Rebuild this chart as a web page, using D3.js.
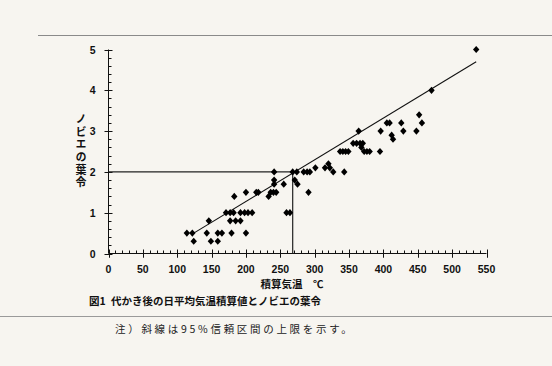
<!DOCTYPE html>
<html><head><meta charset="utf-8">
<script src="https://cdn.jsdelivr.net/npm/d3@7"></script>
<style>
html,body{margin:0;padding:0;background:#f7f5f0;}
svg{display:block;}
</style></head>
<body>
<svg id="c" width="552" height="366"></svg>
<script>
// Data: accumulated daily mean temperature (°C) after puddling vs. leaf age of barnyard grass
const tempSum = [124,149,159, 114,122,143,159,165,179,200, 146,177,185,192,
  171,177,182,192,198,203,209,259,264, 183,233, 200,215,218,236,240,244,291,
  241,255,275, 241,271, 241,268,274,284,289,293,327,343, 301,315,322, 320,
  337,341,345,349,372,376,380,395, 368, 356,361,366,370, 414, 412,
  364,396,429,448, 405,409,426,456, 452, 470, 535];
const leafAge = [0.3,0.3,0.3, 0.5,0.5,0.5,0.5,0.5,0.5,0.5, 0.8,0.8,0.8,0.8,
  1.0,1.0,1.0,1.0,1.0,1.0,1.0,1.0,1.0, 1.4,1.4, 1.5,1.5,1.5,1.5,1.5,1.5,1.5,
  1.7,1.7,1.7, 1.8,1.8, 2.0,2.0,2.0,2.0,2.0,2.0,2.0,2.0, 2.1,2.1,2.1, 2.2,
  2.5,2.5,2.5,2.5,2.5,2.5,2.5,2.5, 2.6, 2.7,2.7,2.7,2.7, 2.8, 2.9,
  3.0,3.0,3.0,3.0, 3.2,3.2,3.2,3.2, 3.4, 4.0, 5.0];
// upper limit of 95% confidence interval (straight line)
const limitX = [124, 535];
const limitY = [0.5, 4.7];
// reference lines at leaf age 2
const refX = [0, 268];
const refY = [2, 2];
const xTicks = [0,50,100,150,200,250,300,350,400,450,500,550];
const yTicks = [0,1,2,3,4,5];

const svg = d3.select("#c");
// frame lines
svg.append("line").attr("x1",38).attr("x2",552).attr("y1",35.5).attr("y2",35.5).attr("stroke","#8a8a8a").attr("stroke-width",1);
svg.append("line").attr("x1",0).attr("x2",552).attr("y1",316.5).attr("y2",316.5).attr("stroke","#9a9a9a").attr("stroke-width",1);

const x = d3.scaleLinear().domain([0,550]).range([108.5,486.5]);
const y = d3.scaleLinear().domain([0,5]).range([253.5,49.5]);

const font = "'Liberation Sans', Arial, sans-serif";
// x axis
const gx = svg.append("g").attr("transform",`translate(0,${y(0)})`);
gx.append("line").attr("x1",x(0)).attr("x2",x(550)).attr("stroke","#111");
gx.selectAll(".mn").data(d3.range(0,551,10)).join("line")
  .attr("x1",d=>Math.round(x(d))+0.5).attr("x2",d=>Math.round(x(d))+0.5)
  .attr("y1",0).attr("y2",d=>d%50===0?4:-3).attr("stroke","#111");
gx.selectAll(".mj").data(xTicks).join("line")
  .attr("x1",d=>Math.round(x(d))+0.5).attr("x2",d=>Math.round(x(d))+0.5)
  .attr("y1",-4).attr("y2",4).attr("stroke","#111");
gx.selectAll("text").data(xTicks).join("text")
  .attr("x",d=>x(d)).attr("y",19).attr("text-anchor","middle")
  .attr("font-family",font).attr("font-size",10.5).attr("font-weight","bold").attr("fill","#111")
  .text(d=>d);
// y axis
const gy = svg.append("g").attr("transform",`translate(${x(0)},0)`);
gy.append("line").attr("y1",y(0)).attr("y2",y(5)).attr("stroke","#111");
gy.selectAll(".mn").data(d3.range(0,5.01,0.2)).join("line")
  .attr("y1",d=>Math.round(y(d))+0.5).attr("y2",d=>Math.round(y(d))+0.5)
  .attr("x1",0).attr("x2",3).attr("stroke","#111");
gy.selectAll(".mj").data(yTicks).join("line")
  .attr("y1",d=>Math.round(y(d))+0.5).attr("y2",d=>Math.round(y(d))+0.5)
  .attr("x1",-4).attr("x2",4).attr("stroke","#111");
gy.selectAll("text").data(yTicks).join("text")
  .attr("x",-13).attr("y",d=>y(d)+4).attr("text-anchor","end")
  .attr("font-family",font).attr("font-size",10.5).attr("font-weight","bold").attr("fill","#111")
  .text(d=>d);

// reference lines
svg.append("line").attr("x1",x(refX[0])).attr("x2",x(refX[1])).attr("y1",y(refY[0])).attr("y2",y(refY[1]))
  .attr("stroke","#222").attr("stroke-width",1.2);
svg.append("line").attr("x1",x(refX[1])).attr("x2",x(refX[1])).attr("y1",y(refY[1])).attr("y2",y(0))
  .attr("stroke","#222").attr("stroke-width",1.2);
// limit line
svg.append("line").attr("x1",x(limitX[0])).attr("x2",x(limitX[1])).attr("y1",y(limitY[0])).attr("y2",y(limitY[1]))
  .attr("stroke","#111").attr("stroke-width",1.1);

// diamonds
const diamond = { draw(ctx, size){ const w=3.2, h=3.6; ctx.moveTo(0,-h); ctx.lineTo(w,0); ctx.lineTo(0,h); ctx.lineTo(-w,0); ctx.closePath(); } };
svg.append("g").selectAll("path").data(tempSum.map((t,i)=>[t,leafAge[i]])).join("path")
  .attr("d", d3.symbol().type(diamond)())
  .attr("transform", d=>`translate(${x(d[0])},${y(d[1])})`)
  .attr("fill","#000");

// labels
const jp = "'Noto Sans CJK JP', sans-serif";
svg.append("text").attr("x",81).attr("y",113.5)
  .style("writing-mode","vertical-rl").style("text-orientation","upright")
  .attr("letter-spacing",1.6)
  .attr("font-family",jp).attr("font-size",11).attr("font-weight","bold").attr("fill","#111")
  .text("ノビエの葉令");
svg.append("text").attr("x",292).attr("y",288).attr("text-anchor","middle")
  .attr("font-family",jp).attr("font-size",10.5).attr("font-weight","bold").attr("fill","#111")
  .text("積算気温\u2003℃");
svg.append("text").attr("x",89).attr("y",305)
  .attr("font-family",jp).attr("font-size",10.5).attr("font-weight","bold").attr("fill","#111")
  .text("図1\u2002代かき後の日平均気温積算値とノビエの葉令");
svg.append("text").attr("x",115).attr("y",333)
  .attr("font-family",jp).attr("font-size",10.5).attr("font-weight","normal").attr("fill","#222")
  .attr("letter-spacing",2.7)
  .text("注）斜線は95%信頼区間の上限を示す。");
</script>
</body></html>
